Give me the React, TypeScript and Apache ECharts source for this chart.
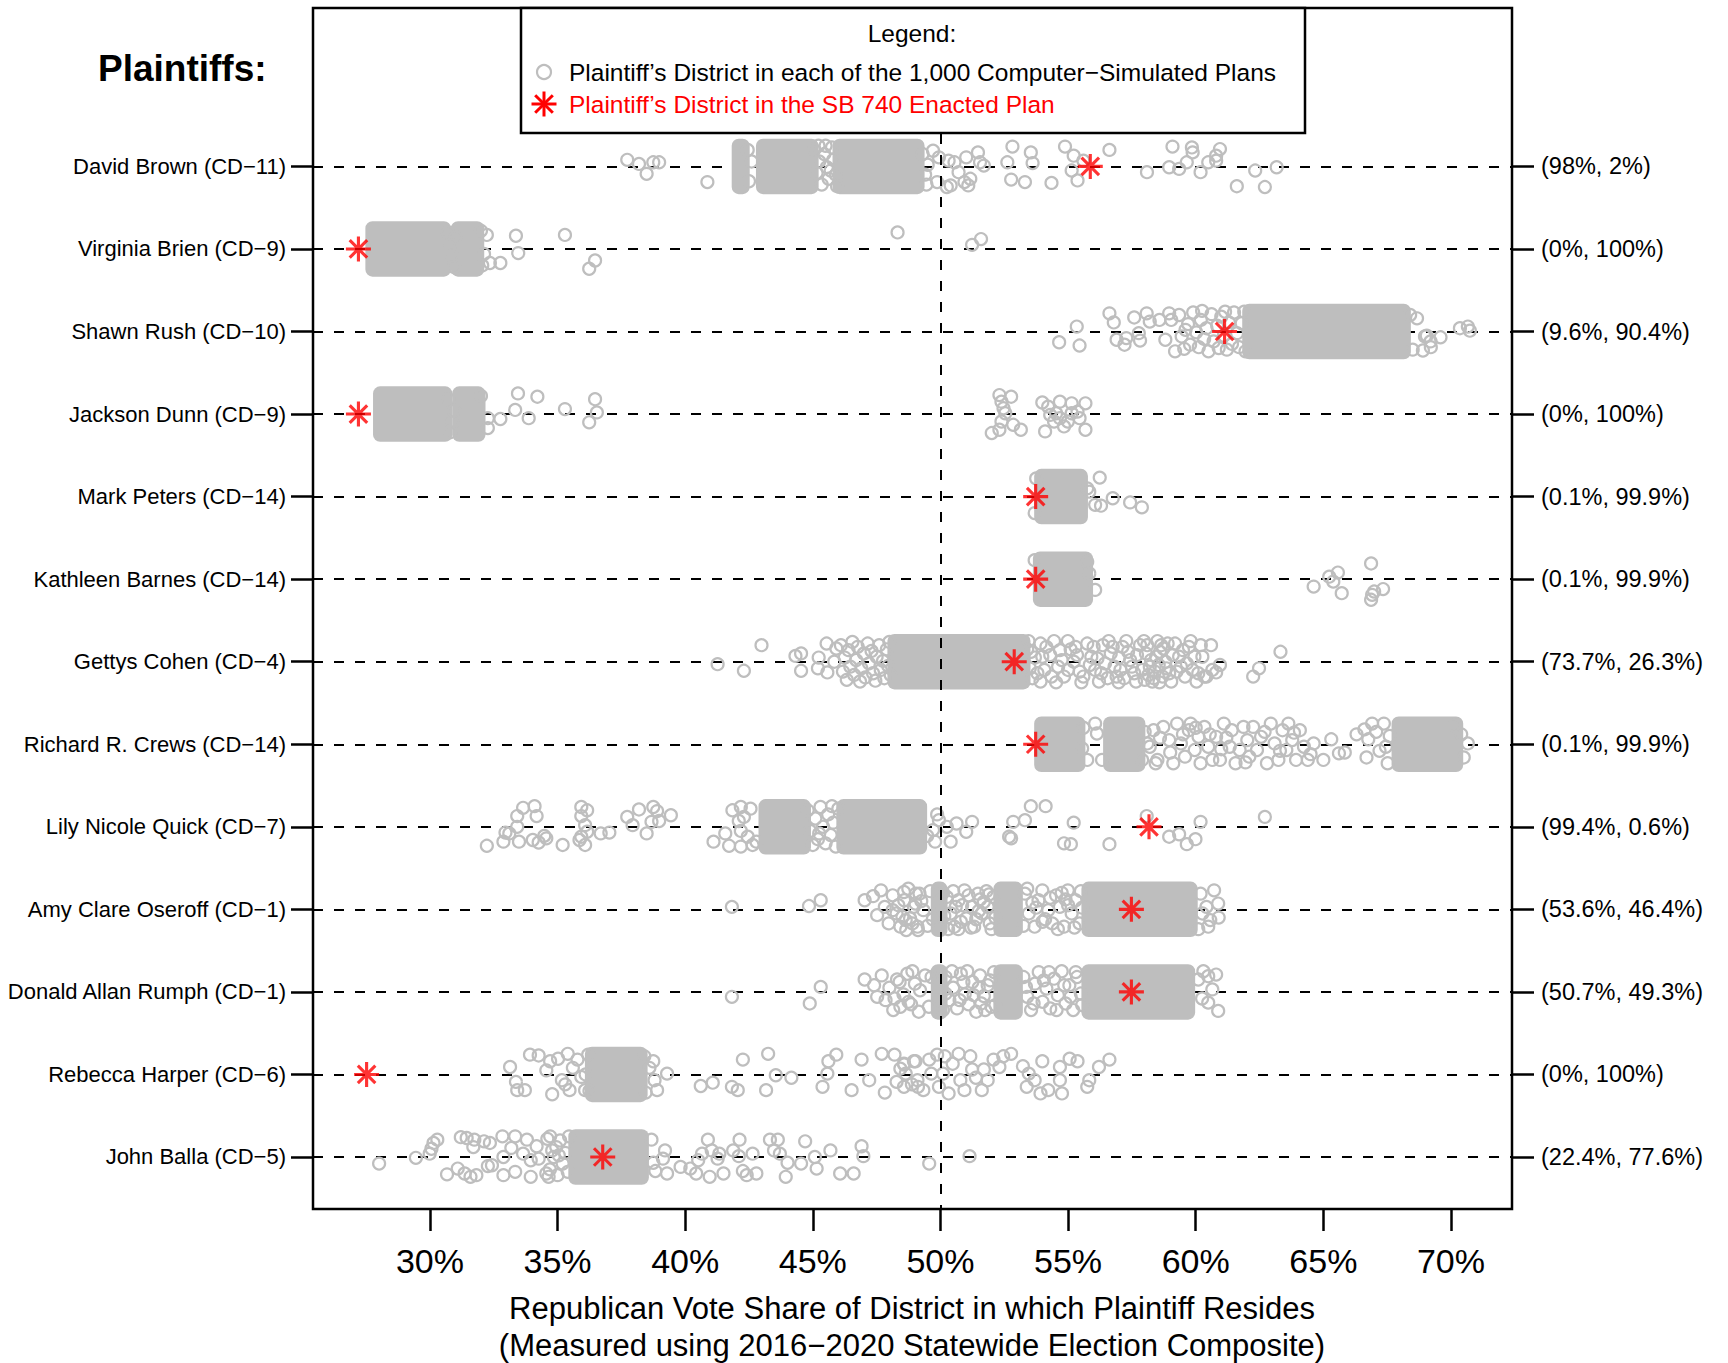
import React, { useEffect, useRef } from "react";
import * as echarts from "echarts";

const plaintiffs = [
  "David Brown (CD−11)",
  "Virginia Brien (CD−9)",
  "Shawn Rush (CD−10)",
  "Jackson Dunn (CD−9)",
  "Mark Peters (CD−14)",
  "Kathleen Barnes (CD−14)",
  "Gettys Cohen (CD−4)",
  "Richard R. Crews (CD−14)",
  "Lily Nicole Quick (CD−7)",
  "Amy Clare Oseroff (CD−1)",
  "Donald Allan Rumph (CD−1)",
  "Rebecca Harper (CD−6)",
  "John Balla (CD−5)",
];

const splitLabels = [
  "(98%, 2%)",
  "(0%, 100%)",
  "(9.6%, 90.4%)",
  "(0%, 100%)",
  "(0.1%, 99.9%)",
  "(0.1%, 99.9%)",
  "(73.7%, 26.3%)",
  "(0.1%, 99.9%)",
  "(99.4%, 0.6%)",
  "(53.6%, 46.4%)",
  "(50.7%, 49.3%)",
  "(0%, 100%)",
  "(22.4%, 77.6%)",
];

// Republican vote share of plaintiff's district in the SB 740 enacted plan
const enactedShare = [55.87, 27.2, 61.13, 27.2, 53.73, 53.73, 52.89, 53.73, 58.17, 57.48, 57.48, 27.52, 36.77];

const xTicks = [30, 35, 40, 45, 50, 55, 60, 65, 70];

// Solid clusters of simulated plans: [from %, to %] per plaintiff row
const denseRanges: number[][][] = [
  [[42.1, 42.25], [43.05, 44.95], [46.05, 49.1]],
  [[27.75, 30.55], [31.1, 31.85]],
  [[62.1, 68.15]],
  [[28.05, 30.6], [31.15, 31.9]],
  [[53.95, 55.5]],
  [[53.9, 55.7]],
  [[48.2, 53.25]],
  [[53.95, 55.4], [56.65, 57.75], [67.95, 70.2]],
  [[43.15, 44.65], [46.2, 49.2]],
  [[49.9, 50.0], [52.35, 52.95], [55.8, 59.8]],
  [[49.9, 50.0], [52.35, 52.95], [55.8, 59.7]],
  [[36.35, 38.25]],
  [[35.7, 38.3]],
];

// Individually visible simulated plans: [vote share %, vertical jitter (hundredths of a row)]
const simulatedRows: number[][][] = [
  [
    [37.73, -8], [38.19, -3], [38.49, 9], [38.75, -5], [38.98, -5], [40.87, 19],
    [42.6, -6], [42.45, -20], [42.5, 18],
    [45.05, -20], [45.15, 8], [45.25, -6], [45.35, 22], [45.45, -15], [45.55, 1], [45.62, 15], [45.75, -23], [45.8, -8], [45.9, 10], [45.95, 24], [45.22, -25], [45.5, -25], [45.7, 5],
    [49.3, -15], [49.4, 10], [49.5, -2], [49.45, 22],
    [49.71, -19], [49.94, -11], [49.87, 19], [50.32, -7], [50.25, 25], [50.55, -5], [50.71, 7], [50.94, 19], [51.01, -11], [51.17, 15], [51.47, -17], [51.55, -5], [51.7, -1], [51.09, 23], [50.4, 23],
    [52.62, -5], [52.82, -24], [52.77, 16], [53.31, 19], [53.54, -17], [53.61, -4], [54.35, 20], [54.88, -24], [55.22, -13], [55.14, 5], [55.37, 17], [55.6, -7], [56.62, -20],
    [58.09, 7], [58.96, 1], [59.09, -24], [59.35, 3], [59.65, -5], [59.85, -23], [59.88, -17], [60.19, 7], [60.49, -5], [60.8, -13], [60.95, -21], [60.8, -7], [61.61, 24], [62.33, 5], [62.71, 25], [63.17, 1],
  ],
  [
    [30.7, -20], [30.85, 8], [30.95, 22], [30.8, -5], [31.0, -14],
    [32.0, -22], [32.05, 20], [32.12, 6], [32.23, -17], [32.35, 17], [32.76, 17], [33.37, -16], [33.46, 5], [35.29, -17], [36.24, 24], [36.47, 14],
    [48.32, -20], [51.24, -5], [51.59, -12],
  ],
  [
    [54.65, 13], [55.34, -6], [55.45, 17], [56.62, -22], [56.79, -11], [56.9, 10], [57.21, 16], [57.28, 8], [57.59, -17], [57.77, 2], [57.82, 11], [58.08, -22], [58.2, -12], [58.58, -14], [58.81, 10], [58.96, -22], [59.04, -14], [59.19, 24],
    [59.35, -20], [59.45, 6], [59.55, 21], [59.7, -9], [59.78, 16], [59.9, -23], [60.02, 1], [60.12, 19], [60.2, -14], [60.33, 9], [60.42, -4], [60.5, 24], [60.62, -21], [60.7, 12], [60.84, -7], [60.9, 20], [61.0, -18], [61.1, 5], [61.22, 22], [61.3, -11], [61.42, 15], [61.5, -23], [61.62, 2], [61.7, 19], [61.8, -10], [61.9, -24], [61.95, 24], [59.6, -2], [60.25, -25], [61.15, -24],
    [68.5, 22], [68.67, -16], [68.9, 23], [68.98, 6], [69.05, 5], [69.2, 12], [69.21, 19], [69.59, 7], [70.35, -4], [70.66, -6], [70.74, -1], [68.4, -20],
  ],
  [
    [30.72, -18], [30.88, 10], [30.95, -4], [30.8, 22],
    [32.0, -22], [32.27, 5], [32.27, 17], [32.76, 6], [33.45, -25], [34.21, -21], [33.34, -5], [33.87, 5], [35.29, -6], [36.47, -18], [36.54, -2], [36.24, 10],
    [52.31, -23], [52.39, -15], [52.77, -21], [52.47, -7], [52.54, -1], [52.39, 9], [52.31, 19], [52.01, 23], [52.85, 13], [53.15, 19], [53.99, -14], [54.22, -9], [54.68, -15], [55.14, -13], [55.68, -13], [54.3, 1], [54.68, 5], [54.99, 9], [55.37, -3], [55.45, 5], [54.84, 15], [54.1, 21], [55.68, 19], [54.53, -1], [55.14, -1], [54.45, 9],
  ],
  [
    [53.69, 20], [53.75, -22], [55.75, -10], [55.83, -6], [56.06, 10], [56.24, -23], [56.29, 11], [56.75, 2], [57.43, 7], [57.89, 13],
  ],
  [
    [53.69, -23], [55.75, -21], [55.83, -7], [56.06, 13], [64.62, 9], [65.23, -3], [65.39, 3], [65.57, -8], [65.72, 17], [66.87, -19], [66.87, 25], [66.91, 19], [66.99, 15], [67.34, 12],
  ],
  [
    [41.27, 3], [42.3, 11], [42.99, -20], [44.32, -7], [44.54, -10], [44.54, 11], [45.2, 8], [45.23, -5], [45.54, -22], [45.57, 13], [45.84, 0], [45.92, -16],
    [46.1, -20], [46.18, 12], [46.25, -5], [46.33, 22], [46.4, -14], [46.47, 6], [46.55, -24], [46.62, 16], [46.7, -2], [46.76, -18], [46.85, 24], [46.9, 8], [47.0, -10], [47.06, 19], [47.15, -22], [47.2, 2], [47.3, -13], [47.36, 14], [47.45, 23], [47.5, -6], [47.6, -20], [47.66, 10], [47.75, -1], [47.8, 20], [47.9, -15], [47.95, 5], [48.0, -24], [48.05, 16],
    [53.4, -15], [53.5, 8], [53.6, 20], [53.45, -25], [53.7, -5],
    [53.92, -22], [54.15, -18], [53.99, -6], [54.07, 10], [53.92, 24], [54.45, -25], [54.68, -14], [54.61, 6], [54.84, 18], [54.53, 25], [54.99, -25], [55.29, -18], [55.22, 0], [55.45, 12], [55.52, 25], [55.75, -22], [55.91, -6], [56.06, 10], [56.21, 24], [56.36, -20], [56.59, -25], [56.67, -10], [56.82, 6], [56.9, 18], [56.98, 25], [57.13, -18], [57.28, -25], [57.43, -2], [57.59, 14], [57.66, 24], [57.82, -20], [57.97, -25], [58.05, -10], [58.2, 6], [58.35, 20], [58.5, -25], [58.58, 25], [58.73, -16], [58.81, 0], [58.96, 14], [59.04, 24], [59.19, -22], [59.35, -6], [59.42, 6], [59.58, 18], [59.73, -18], [59.88, 10], [60.03, 24], [60.26, -6], [60.42, 18], [60.65, 10],
    [58.1, -20], [58.25, -2], [58.4, 12], [58.6, -12], [58.7, 18], [58.9, -22], [58.45, -6], [58.3, 24], [58.15, 16], [58.85, 8],
    [53.55, -12], [53.8, 14], [54.3, -8], [54.35, 18], [54.75, -2], [55.0, 10], [55.1, -15], [55.35, -8], [55.6, 18], [55.85, 4], [56.0, -18], [56.15, -4], [56.3, 14], [56.45, 2], [56.55, 20], [56.75, -18], [57.0, -5], [57.05, 10], [57.2, 20], [57.35, -12], [57.5, 6], [57.7, -8], [57.9, 10], [58.0, 22], [58.55, 4], [58.65, -20], [59.1, -8], [59.25, 12], [59.5, -14], [59.65, 2], [59.8, -25], [59.95, -6], [60.1, 14], [60.2, -20],
    [60.6, -20], [60.95, 4], [60.34, 18], [60.8, 13], [62.25, 18], [62.48, 8], [63.32, -12],
  ],
  [
    [55.6, -20], [55.55, 5], [55.75, 19], [56.06, -25], [56.13, -13], [56.33, 19], [58.0, -15], [57.9, 19], [58.1, -1],
    [58.2, 3], [58.35, -17], [58.5, 19], [58.73, -21], [58.96, -5], [59.12, 23], [58.43, 23], [59.27, -25], [59.42, -1], [59.58, 15], [59.73, -17], [59.8, -25], [59.96, 7], [60.11, -9], [60.19, 23], [60.34, -21], [60.49, 3], [60.65, 19], [60.8, -9], [60.95, 19], [61.1, -25], [61.33, 3], [61.41, -17], [61.56, 23], [61.72, 7], [61.87, -21], [62.02, -5], [62.1, 15], [62.25, -21], [62.4, 7], [62.56, -9], [62.79, 23], [62.94, -25], [63.09, -1], [63.24, 19], [63.4, -17], [63.55, 7], [63.63, -25], [63.78, -5], [63.93, 19], [64.08, -17], [64.24, 3], [64.39, 19], [64.62, -1],
    [58.6, -8], [59.0, 10], [59.5, -12], [60.0, -20], [60.55, -12], [61.0, 6], [61.2, -8], [61.95, 22], [62.7, -15], [63.3, 8], [63.85, -14], [64.5, 12],
    [65.0, 19], [65.31, -6], [65.61, 11], [65.84, 10], [66.3, -12], [66.61, -18], [66.91, -25], [66.76, -6], [66.69, 16], [67.07, -15], [67.45, 3], [67.52, 23], [67.37, -25], [67.2, 8], [67.6, -10], [70.5, 16], [70.66, -1], [70.12, -23], [70.4, -12],
  ],
  [
    [32.23, 23], [32.96, 7], [32.88, 18], [33.11, 8], [33.42, -13], [33.65, -23], [34.1, -25], [34.18, -13], [33.49, 18], [33.42, 0], [34.03, 16], [34.26, 19], [34.48, 11], [34.56, 14], [35.2, 22], [35.93, -24], [36.16, -20], [35.93, -13], [36.08, -2], [36.16, 6], [35.93, 12], [35.86, 16], [36.08, 22], [36.69, 8], [37.03, 7], [37.73, -12], [37.94, -2], [38.19, -21], [38.75, -24], [38.9, -19], [38.68, -6], [38.98, -7], [39.44, -14], [38.49, 8],
    [41.11, 18], [41.57, 8], [41.72, 23], [41.85, -20], [42.18, -24], [42.1, -7], [42.18, 5], [42.18, 24], [42.56, -22], [42.64, 22], [42.79, 18], [42.3, -12], [42.45, 12],
    [44.8, -20], [44.9, 5], [45.0, 22], [45.1, -10], [45.2, 15], [45.3, -24], [45.4, 0], [45.5, 20], [45.6, -15], [45.7, 10], [45.8, -5], [45.9, 24], [46.0, -22], [45.25, 8], [45.75, -25],
    [49.48, 11], [49.71, 4], [49.79, 18], [49.87, -15], [49.94, -8], [50.25, 0], [50.4, 18], [50.63, -4], [51.01, 6], [51.24, -6], [52.69, 12], [52.77, 14], [52.85, -6], [53.31, -8], [53.54, -25], [54.12, -25], [55.22, -5], [54.84, 20], [55.11, 21], [56.62, 21], [58.08, -13], [58.96, 12], [59.35, 9], [59.65, 21], [59.99, 15], [60.19, -6], [62.71, -12],
  ],
  [
    [41.83, -3], [44.85, -4], [45.31, -11], [47.03, -11], [47.36, -16], [47.52, 7],
    [47.67, -23], [47.82, -3], [47.97, 17], [48.13, -17], [48.28, 5], [48.43, 21], [48.58, -11], [48.74, -25], [48.81, 11], [48.96, -3], [49.12, 25], [49.04, -19], [48.13, 1], [48.51, 9], [48.66, 25],
    [48.57, -21], [48.64, 13], [49.02, -7], [49.18, -19], [49.1, 21], [49.33, 1],
    [50.25, -15], [50.4, 5], [50.55, 21], [50.71, -11], [50.94, -23], [51.01, 11], [51.24, -3], [51.32, 21], [51.47, -19], [51.62, 5], [51.7, -9], [51.93, 17], [52.08, -15],
    [50.1, -20], [50.3, 24], [50.8, 15], [51.1, -17], [51.4, 12], [51.8, -22], [52.0, 24], [50.6, -3], [51.55, -12], [50.0, 0],
    [48.35, -5], [48.9, 17], [49.25, -10], [49.6, -22], [49.7, 12], [50.15, 8], [50.5, -22], [50.85, -5], [51.2, 22], [51.5, 2], [51.85, -3], [52.15, 10], [49.5, 20], [50.7, 24], [51.9, -18],
    [53.31, -19], [53.46, 5], [53.69, 21], [53.84, -11], [53.99, -23], [54.22, 1], [54.38, 17], [54.53, -17], [54.68, -3], [54.84, 21], [54.99, -23], [55.14, 5], [55.29, -11], [55.45, 17], [53.6, -8], [54.1, 12], [54.9, -12], [55.5, -22], [53.25, 20],
    [53.4, -25], [53.75, -2], [54.0, 15], [54.3, -14], [54.6, 24], [54.75, -20], [55.0, -5], [55.25, 22], [55.55, -2],
    [60.19, -19], [60.42, -3], [60.57, 13], [60.72, -23], [60.88, -7], [60.49, 21], [60.26, 5], [60.9, 10], [60.1, 24],
  ],
  [
    [41.83, 6], [44.88, 14], [45.31, -6], [47.03, -15], [47.52, 6], [47.4, -8], [48.43, 18],
    [47.7, -20], [47.85, 10], [48.0, -5], [48.15, 22], [48.3, -15], [48.55, 3], [48.7, -22], [48.85, 15], [49.0, -10], [49.15, 24], [48.9, -25], [48.2, 8],
    [50.2, -18], [50.35, 10], [50.5, -5], [50.65, 20], [50.8, -22], [50.95, 3], [51.1, 15], [51.25, -12], [51.4, 24], [51.55, -20], [51.7, 5], [51.85, -8], [52.0, 18], [52.1, -24], [50.1, 22], [51.05, -25], [51.6, 14],
    [48.4, -12], [48.75, 12], [49.2, -2], [49.55, 18], [49.65, -18], [50.2, 2], [50.45, -25], [50.9, -12], [51.3, 4], [51.5, -5], [51.95, -14], [52.15, 16], [49.4, -20], [50.75, 10], [51.75, 22],
    [53.25, -18], [53.4, 6], [53.55, 22], [53.7, -10], [53.85, -24], [54.0, 12], [54.15, -4], [54.3, 20], [54.45, -16], [54.6, 4], [54.75, -25], [54.9, 14], [55.05, -8], [55.2, 22], [55.35, -18], [55.5, 2],
    [53.35, -6], [53.65, 14], [54.05, -14], [54.25, -24], [54.55, 22], [54.85, -8], [55.1, 6], [55.3, -24], [55.55, 16],
    [60.1, -15], [60.25, 8], [60.49, -19], [60.8, -21], [60.65, -3], [60.49, 13], [60.88, 23], [60.3, -25],
  ],
  [
    [33.14, -9], [33.37, 9], [33.42, 19], [33.72, 19], [33.92, -24], [34.26, -23], [34.56, -5], [34.71, -16], [34.79, 24], [35.02, -19], [35.4, -25], [35.17, 7], [35.47, 19], [35.78, -18], [35.93, 3], [36.08, 19], [36.2, -24], [36.25, 20], [36.1, 0], [35.6, -8], [35.3, 12],
    [38.4, -22], [38.45, 22], [38.6, -8], [38.75, -16], [38.8, 7], [38.9, 19], [39.29, -1],
    [40.61, 14], [41.08, 10], [41.83, 15], [42.06, 19], [42.26, -18], [43.17, 19], [43.25, -25], [43.55, 1], [44.16, 4], [45.38, 15], [45.57, -1], [45.92, -24], [45.61, -16], [46.52, 19], [46.91, -18], [47.21, 7], [47.7, -25], [47.82, 22], [48.2, -24], [48.28, 9], [48.58, -12], [48.43, -7], [48.96, -16], [48.88, 12], [49.12, 15],
    [48.57, -13], [48.64, -1], [48.57, 15], [49.02, -16], [49.1, 7], [49.33, 19], [49.56, -18], [49.64, -1], [49.87, -24], [49.94, 15], [50.1, -1], [50.17, -22], [50.32, 23], [50.48, -13], [50.71, -25], [50.78, 7], [50.94, 19], [51.17, -22], [51.24, -6], [51.39, 4], [51.62, 19], [51.7, -6], [51.85, 7], [52.08, -18], [52.31, -9], [52.46, -22], [52.77, -25], [53.23, -10], [53.46, -1], [53.38, 15], [53.69, 7], [53.92, 23], [53.99, -16], [54.22, 19], [54.68, -9], [54.68, 7], [54.76, 23], [55.06, -19], [55.37, -16], [55.83, 7], [55.75, 15], [56.21, -9], [56.62, -18],
  ],
  [
    [28.01, 8], [29.45, 1], [29.99, -4], [30.14, -17], [30.29, -21], [30.06, -10], [30.67, 21], [31.21, -24], [31.09, 14], [31.36, 20], [31.44, -23], [31.74, -21], [31.7, -12], [31.59, 24], [31.82, 22], [32.12, -19], [32.35, -17], [32.27, 11], [32.43, 10], [32.84, -25], [32.88, 0], [32.88, 22], [33.19, -11], [33.34, -25], [33.34, 18], [33.65, -4], [33.8, -21], [33.95, 24], [34.18, -13], [33.95, 4], [34.26, 2], [34.56, 20], [34.71, -25], [34.79, -8],
    [34.6, -22], [34.7, 15], [34.85, 0], [34.95, -12], [35.0, 22], [35.1, -20], [35.2, 8], [35.3, -5], [35.4, 18], [35.45, -25], [34.65, 24], [35.05, -2],
    [38.68, -21], [38.75, 7], [38.83, 17], [39.21, -8], [39.29, 20], [39.13, 2], [39.82, 12], [40.2, 14], [40.51, 4], [40.43, 20], [40.66, -4], [40.89, -21], [40.96, 24], [41.04, -8], [41.27, 2], [41.5, 20], [41.34, -4], [41.88, -8], [42.13, -21], [42.1, -1], [42.26, 17], [42.41, 22], [42.64, -4], [42.79, 20], [43.32, -21], [43.48, -8], [43.63, -21], [43.71, -4], [43.94, 24], [44.01, 7], [44.54, 8], [44.7, -19], [45.08, 0], [45.15, 14], [45.69, -8], [46.07, 20], [46.6, 20], [46.91, -13], [46.98, -1], [49.56, 8], [51.14, -1],
  ],
];

const FONT = '"Liberation Sans", Arial, Helvetica, sans-serif';
const GRAY = "#BEBEBE";
const JITTER_HALF = 0.25;
const RING_SIZE = 12;
const RING_WIDTH = 2.2;
const STAR_PATH =
  "path://M0 10.5L24 10.5L24 13.5L0 13.5Z M10.5 0L13.5 0L13.5 24L10.5 24Z M4.66 2.54L21.46 19.34L19.34 21.46L2.54 4.66Z M21.46 4.66L4.66 21.46L2.54 19.34L19.34 2.54Z";

export default function App() {
  const ref = useRef<HTMLDivElement>(null);

  useEffect(() => {
    document.body.style.margin = "0";
    if (!ref.current) return;
    const chart = echarts.init(ref.current, undefined, { renderer: "svg" });
    const rows = plaintiffs.map((_, i) => i);

    const ringData: number[][] = [];
    simulatedRows.forEach((pts, i) => {
      pts.forEach(([x, j]) => ringData.push([x, i + j / 100]));
    });
    const bandData: number[][] = [];
    denseRanges.forEach((ranges, i) => {
      ranges.forEach(([a, b]) => bandData.push([a, b, i]));
    });
    const starData = enactedShare.map((v, i) => [v, i]);

    const yCommon = {
      type: "value",
      min: -1.919,
      max: 12.63,
      inverse: true,
      axisLine: { show: false, onZero: false },
      splitLine: { show: false },
    };

    const outerR = RING_SIZE / 2 + RING_WIDTH / 2;

    const option: any = {
      animation: false,
      grid: {
        left: 313,
        top: 8,
        width: 1199,
        height: 1201,
        show: true,
        borderColor: "#000",
        borderWidth: 2.5,
        backgroundColor: "transparent",
      },
      xAxis: {
        type: "value",
        min: 25.42,
        max: 72.39,
        axisLine: { show: false, onZero: false },
        splitLine: { show: false },
        axisTick: {
          show: true,
          inside: false,
          length: 22,
          customValues: xTicks,
          lineStyle: { color: "#000", width: 2.5 },
        },
        axisLabel: {
          customValues: xTicks,
          formatter: (v: number) => `${v}%`,
          fontSize: 34,
          fontFamily: FONT,
          color: "#000",
          margin: 35,
        },
      },
      yAxis: [
        {
          ...yCommon,
          position: "left",
          axisTick: {
            show: true,
            length: 22,
            customValues: rows,
            lineStyle: { color: "#000", width: 2.5 },
          },
          axisLabel: {
            customValues: rows,
            formatter: (v: number) => plaintiffs[Math.round(v)] ?? "",
            fontSize: 22,
            fontFamily: FONT,
            color: "#000",
            margin: 27,
          },
        },
        {
          ...yCommon,
          position: "right",
          axisTick: {
            show: true,
            length: 22,
            customValues: rows,
            lineStyle: { color: "#000", width: 2.5 },
          },
          axisLabel: {
            customValues: rows,
            formatter: (v: number) => splitLabels[Math.round(v)] ?? "",
            fontSize: 23.5,
            fontFamily: FONT,
            color: "#000",
            margin: 29,
          },
        },
      ],
      series: [
        {
          type: "custom",
          z: 2,
          silent: true,
          data: bandData,
          encode: { x: [0, 1], y: 2 },
          renderItem: (_params: any, api: any) => {
            const a = api.value(0);
            const b = api.value(1);
            const row = api.value(2);
            const p1 = api.coord([a, row - JITTER_HALF]);
            const p2 = api.coord([b, row + JITTER_HALF]);
            const top = Math.min(p1[1], p2[1]);
            const bottom = Math.max(p1[1], p2[1]);
            return {
              type: "rect",
              shape: {
                x: p1[0] - outerR,
                y: top - outerR,
                width: p2[0] - p1[0] + 2 * outerR,
                height: bottom - top + 2 * outerR,
                r: outerR,
              },
              style: { fill: GRAY },
            };
          },
        },
        {
          type: "scatter",
          z: 2,
          silent: true,
          data: ringData,
          symbol: "circle",
          symbolSize: RING_SIZE,
          itemStyle: { color: "rgba(255,255,255,0)", borderColor: GRAY, borderWidth: RING_WIDTH, opacity: 1 },
          markLine: {
            silent: true,
            z: 1,
            symbol: ["none", "none"],
            label: { show: false },
            lineStyle: { color: "#000", width: 2, type: [10, 11] },
            data: rows.map((i) => ({ yAxis: i })),
          },
        },
        {
          type: "scatter",
          z: 3,
          silent: true,
          data: starData,
          symbol: STAR_PATH,
          symbolSize: 25,
          itemStyle: { color: "#FF0000" },
          markLine: {
            silent: true,
            z: 5,
            symbol: ["none", "none"],
            label: { show: false },
            lineStyle: { color: "#000", width: 2, type: [10, 11] },
            data: [{ xAxis: 50 }],
          },
        },
      ],
      graphic: [
        {
          type: "text",
          x: 98,
          y: 68,
          style: {
            text: "Plaintiffs:",
            font: `bold 37px ${FONT}`,
            fill: "#000",
            textAlign: "left",
            textVerticalAlign: "middle",
            align: "left",
            verticalAlign: "middle",
          },
        },
        {
          type: "group",
          z: 100,
          children: [
            {
              type: "rect",
              z: 100,
              shape: { x: 521, y: 8, width: 784, height: 125 },
              style: { fill: "#fff", stroke: "#000", lineWidth: 2.5 },
            },
            {
              type: "text",
              z: 101,
              x: 912,
              y: 33,
              style: {
                text: "Legend:",
                font: `24.5px ${FONT}`,
                fill: "#000",
                textAlign: "center",
                textVerticalAlign: "middle",
                align: "center",
                verticalAlign: "middle",
              },
            },
            {
              type: "circle",
              z: 101,
              shape: { cx: 544, cy: 72, r: 7 },
              style: { fill: "none", stroke: GRAY, lineWidth: 2.2 },
            },
            {
              type: "text",
              z: 101,
              x: 569,
              y: 72,
              style: {
                text: "Plaintiff’s District in each of the 1,000 Computer−Simulated Plans",
                font: `24.5px ${FONT}`,
                fill: "#000",
                textAlign: "left",
                textVerticalAlign: "middle",
                align: "left",
                verticalAlign: "middle",
              },
            },
            {
              type: "group",
              z: 101,
              x: 544,
              y: 104,
              children: [
                { type: "line", z: 101, shape: { x1: -12.5, y1: 0, x2: 12.5, y2: 0 }, style: { stroke: "#FF0000", lineWidth: 3 } },
                { type: "line", z: 101, shape: { x1: 0, y1: -12.5, x2: 0, y2: 12.5 }, style: { stroke: "#FF0000", lineWidth: 3 } },
                { type: "line", z: 101, shape: { x1: -8.8, y1: -8.8, x2: 8.8, y2: 8.8 }, style: { stroke: "#FF0000", lineWidth: 3 } },
                { type: "line", z: 101, shape: { x1: 8.8, y1: -8.8, x2: -8.8, y2: 8.8 }, style: { stroke: "#FF0000", lineWidth: 3 } },
              ],
            },
            {
              type: "text",
              z: 101,
              x: 569,
              y: 104,
              style: {
                text: "Plaintiff’s District in the SB 740 Enacted Plan",
                font: `24.5px ${FONT}`,
                fill: "#FF0000",
                textAlign: "left",
                textVerticalAlign: "middle",
                align: "left",
                verticalAlign: "middle",
              },
            },
          ],
        },
        {
          type: "text",
          x: 912,
          y: 1308,
          style: {
            text: "Republican Vote Share of District in which Plaintiff Resides",
            font: `31px ${FONT}`,
            fill: "#000",
            textAlign: "center",
            textVerticalAlign: "middle",
            align: "center",
            verticalAlign: "middle",
          },
        },
        {
          type: "text",
          x: 912,
          y: 1345,
          style: {
            text: "(Measured using 2016−2020 Statewide Election Composite)",
            font: `31px ${FONT}`,
            fill: "#000",
            textAlign: "center",
            textVerticalAlign: "middle",
            align: "center",
            verticalAlign: "middle",
          },
        },
      ],
    };

    chart.setOption(option);
    return () => chart.dispose();
  }, []);

  return (
    <div
      ref={ref}
      style={{ position: "absolute", left: 0, top: 0, width: 1728, height: 1363, background: "#fff" }}
    />
  );
}
